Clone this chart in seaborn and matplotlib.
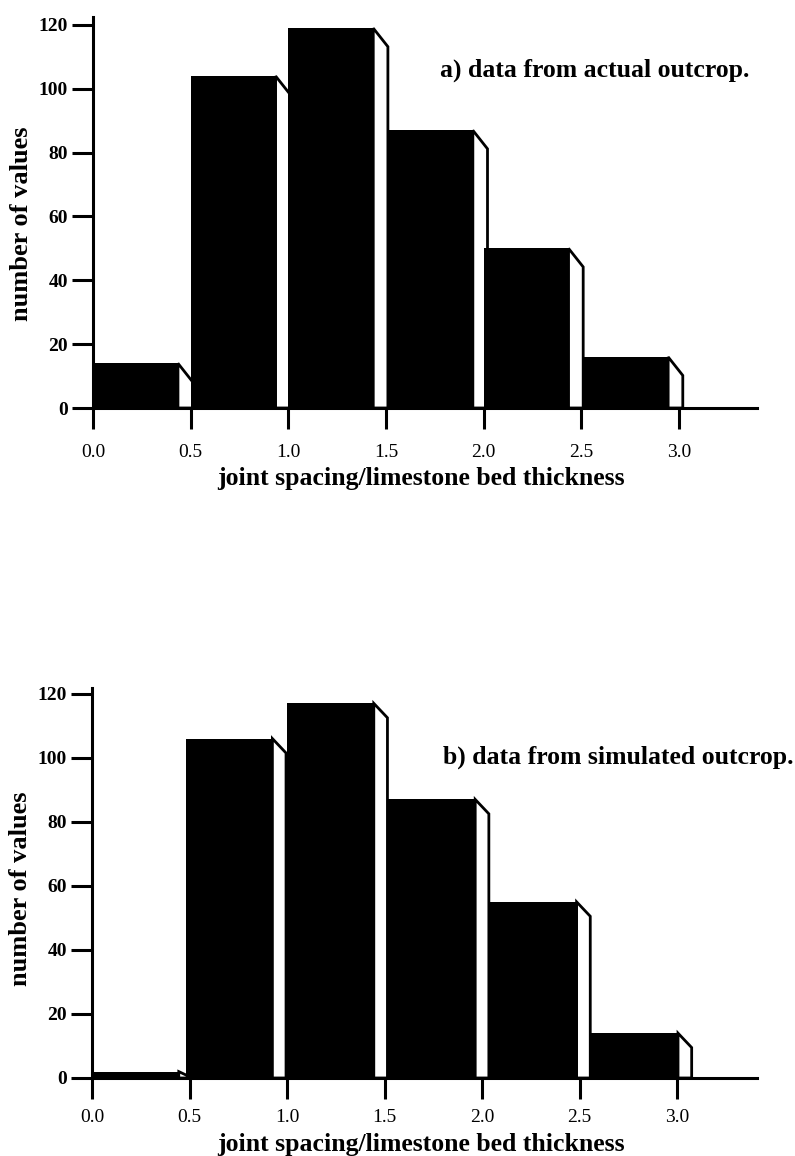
import numpy as np
import pandas as pd
import matplotlib
matplotlib.use("Agg")
import matplotlib.pyplot as plt
import seaborn as sns

# counts per 0.5 class of joint spacing / bed thickness
counts_actual = [14, 104, 119, 87, 50, 16]
counts_simulated = [2, 106, 117, 87, 55, 14]
# left edge of each bar as drawn in the original
left_actual = [0.0, 0.5, 1.0, 1.51, 2.0, 2.51]
left_simulated = [0.0, 0.48, 1.0, 1.52, 2.04, 2.56]

x_ticks = [0.0, 0.5, 1.0, 1.5, 2.0, 2.5, 3.0]
x_ticklabels = ["0.0", "0.5", "1.0", "1.5", "2.0", "2.5", "3.0"]
y_ticks = [0, 20, 40, 60, 80, 100, 120]

sns.set_style("ticks")
plt.rcParams["font.family"] = ["Liberation Serif", "DejaVu Serif"]
plt.rcParams["axes.linewidth"] = 2.2
for key in ["text.color", "axes.labelcolor", "axes.edgecolor",
            "xtick.color", "ytick.color"]:
    plt.rcParams[key] = "black"

fig = plt.figure(figsize=(7.95, 11.56), dpi=100)
ax_a = fig.add_axes([93 / 795, 1 - 408 / 1156, 664 / 795, 391 / 1156])
ax_b = fig.add_axes([92 / 795, 1 - 1078 / 1156, 665 / 795, 390 / 1156])


def draw_panel(ax, lefts, counts, label, bar_w, depth, drop, ymax, xmax, xpad,
               title_xy, ylab_y, xlab_y):
    lefts = np.asarray(lefts)
    counts = np.asarray(counts)
    df = pd.DataFrame({"x": lefts + bar_w / 2, "n": counts})

    # white "3d" side faces behind the black fronts
    for l, h in zip(lefts, counts):
        r = l + bar_w
        ax.fill([r, r, r + depth, r + depth], [0, h, max(h - drop, 0), 0],
                facecolor="white", edgecolor="black", lw=2, zorder=1)

    sns.barplot(data=df, x="x", y="n", native_scale=True, errorbar=None,
                width=bar_w / np.diff(df["x"]).min(), color="black",
                saturation=1, linewidth=0, ax=ax, zorder=2)

    ax.set_xlim(0, xmax)
    ax.set_ylim(0, ymax)
    ax.set_xticks(x_ticks)
    ax.set_xticklabels(x_ticklabels)
    ax.set_yticks(y_ticks)
    ax.tick_params(axis="both", direction="out", length=15, width=2.2,
                   labelsize=14, color="black", labelcolor="black")
    ax.tick_params(axis="y", pad=3)
    ax.tick_params(axis="x", pad=xpad)
    for t in ax.get_yticklabels():
        t.set_fontweight("bold")
    sns.despine(ax=ax)

    ax.set_xlabel("joint spacing/limestone bed thickness", fontsize=18.5,
                  fontweight="bold", color="black")
    ax.set_ylabel("number of values", fontsize=19, fontweight="bold",
                  color="black")
    ax.xaxis.set_label_coords(0.494, xlab_y)
    ax.yaxis.set_label_coords(-0.09, ylab_y)
    ax.text(title_xy[0], title_xy[1], label, transform=ax.transAxes,
            fontsize=18.5, fontweight="bold", ha="left", va="center",
            color="black")


draw_panel(ax_a, left_actual, counts_actual, "a) data from actual outcrop.",
           bar_w=0.435, depth=0.075, drop=5.8, ymax=122.5, xmax=3.4, xpad=11,
           title_xy=(0.523, 0.864), ylab_y=0.47, xlab_y=-0.151)
draw_panel(ax_b, left_simulated, counts_simulated,
           "b) data from simulated outcrop.",
           bar_w=0.445, depth=0.07, drop=4.5, ymax=121.8, xmax=3.41, xpad=7,
           title_xy=(0.528, 0.823), ylab_y=0.486, xlab_y=-0.141)

fig.savefig("out.png", dpi=100, facecolor="white")
